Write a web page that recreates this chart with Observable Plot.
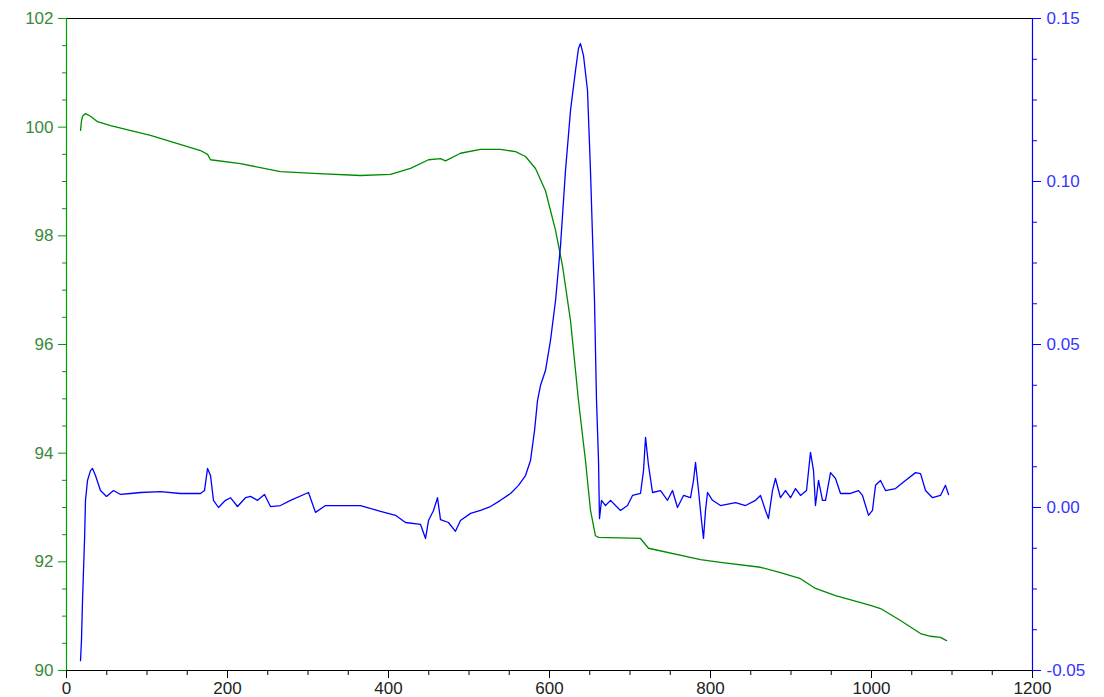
<!DOCTYPE html>
<html>
<head>
<meta charset="utf-8">
<script src="https://cdn.jsdelivr.net/npm/d3@7"></script>
<script src="https://cdn.jsdelivr.net/npm/@observablehq/plot@0.6"></script>
<style>
  html, body { margin: 0; padding: 0; background: #fff; }
  #chart svg { font-family: "Liberation Sans", Arial, sans-serif; display: block; }
</style>
</head>
<body>
<div id="chart"></div>
<script>
// Mass curve (left axis, %)
const massT = [17.4, 18.5, 19.9, 23.6, 29.8, 38.5, 54.7, 104.3, 166.5, 175.2, 178.9, 216.1, 265.8, 306.8, 365.2, 402.5, 427.3, 449.7, 464.6, 470.8, 489.4, 514.3, 539.1, 557.8, 570.2, 582.6, 595.0, 607.5, 616.1, 626.1, 636.0, 644.7, 650.9, 657.1, 660.9, 713.0, 723.0, 787.6, 812.4, 862.1, 887.0, 911.8, 930.4, 955.3, 998.8, 1011.2, 1036.0, 1060.9, 1073.3, 1085.7, 1093.2];
const massV = [99.94, 100.1, 100.2, 100.25, 100.2, 100.1, 100.03, 99.85, 99.57, 99.5, 99.40, 99.33, 99.18, 99.15, 99.11, 99.13, 99.24, 99.40, 99.42, 99.38, 99.52, 99.59, 99.59, 99.55, 99.46, 99.24, 98.83, 98.10, 97.45, 96.44, 94.97, 93.86, 92.95, 92.48, 92.45, 92.43, 92.25, 92.04, 91.99, 91.90, 91.80, 91.69, 91.51, 91.38, 91.20, 91.14, 90.92, 90.68, 90.63, 90.61, 90.55];

// Derivative curve (right axis)
const derivT = [17.4, 18.6, 19.9, 22.4, 23.6, 26.1, 29.8, 32.3, 36.0, 42.2, 49.7, 58.4, 67.1, 79.5, 91.9, 116.8, 141.6, 166.5, 171.4, 175.2, 178.9, 182.6, 188.8, 197.5, 203.7, 212.4, 222.4, 228.6, 237.3, 246.0, 253.4, 265.8, 278.3, 300.6, 309.3, 321.7, 340.4, 365.2, 390.1, 408.7, 421.1, 439.8, 446.0, 449.7, 455.9, 460.9, 464.6, 474.5, 483.2, 489.4, 501.9, 514.3, 526.7, 539.1, 551.6, 561.5, 570.2, 576.4, 581.4, 585.1, 588.8, 595.0, 601.2, 607.5, 613.7, 619.9, 626.1, 632.3, 636.0, 638.5, 642.2, 647.2, 650.9, 655.9, 658.4, 660.9, 662.1, 664.6, 669.6, 675.8, 682.0, 688.2, 696.9, 703.1, 713.0, 716.8, 719.3, 723.0, 728.0, 737.9, 746.6, 752.8, 759.0, 766.5, 775.2, 778.9, 781.4, 785.1, 788.8, 791.3, 793.8, 796.3, 802.5, 812.4, 831.1, 843.5, 855.9, 862.1, 868.3, 872.0, 877.0, 880.7, 886.9, 893.2, 899.4, 905.6, 911.8, 919.3, 924.2, 928.0, 930.4, 934.2, 939.1, 942.9, 949.1, 955.3, 961.5, 973.9, 983.9, 988.8, 996.3, 1001.2, 1005.0, 1011.2, 1017.4, 1029.8, 1042.2, 1054.7, 1060.9, 1067.1, 1075.8, 1085.7, 1091.9, 1095.7];
const derivV = [-0.047, -0.0408, -0.0285, -0.010, 0.0022, 0.0083, 0.0113, 0.012, 0.0098, 0.0052, 0.0034, 0.0052, 0.004, 0.0043, 0.0046, 0.0049, 0.0043, 0.0043, 0.0052, 0.012, 0.0098, 0.0022, 0.0, 0.0022, 0.003, 0.0003, 0.003, 0.0034, 0.0022, 0.004, 0.0003, 0.0006, 0.0022, 0.0046, -0.0015, 0.0006, 0.0006, 0.0006, -0.0012, -0.0024, -0.0046, -0.0052, -0.0095, -0.004, -0.0009, 0.003, -0.0037, -0.0046, -0.0073, -0.004, -0.0018, -0.0009, 0.0003, 0.0022, 0.0043, 0.0068, 0.0098, 0.0144, 0.0236, 0.0328, 0.0374, 0.042, 0.0512, 0.0635, 0.0804, 0.1034, 0.1218, 0.134, 0.1408, 0.1423, 0.1387, 0.128, 0.1034, 0.0635, 0.0328, 0.0144, -0.0034, 0.0022, 0.0006, 0.0022, 0.0006, -0.0009, 0.0006, 0.0037, 0.0043, 0.0113, 0.0215, 0.0129, 0.0046, 0.0052, 0.0022, 0.0052, 0.0, 0.0037, 0.003, 0.0083, 0.0138, 0.0052, -0.004, -0.0095, -0.0009, 0.0046, 0.0022, 0.0006, 0.0015, 0.0006, 0.0022, 0.0037, -0.0009, -0.0034, 0.0052, 0.0089, 0.003, 0.0052, 0.003, 0.0058, 0.0037, 0.0052, 0.0169, 0.0113, 0.0006, 0.0083, 0.0022, 0.0022, 0.0107, 0.0089, 0.0043, 0.0043, 0.0052, 0.0037, -0.0024, -0.0009, 0.0068, 0.0083, 0.0052, 0.0058, 0.0083, 0.0107, 0.0104, 0.0052, 0.003, 0.0037, 0.0068, 0.004];

// Tick values
const xMajor = [0, 200, 400, 600, 800, 1000, 1200];
const leftMajor = [90, 92, 94, 96, 98, 100, 102];
const rightMajor = [-0.05, 0.00, 0.05, 0.10, 0.15];

const mass = massT.map((t, i) => ({t, v: massV[i]}));
const deriv = derivT.map((t, i) => ({t, v: derivV[i]}));

// map right-axis value onto left scale
const R2L = v => 90 + (v + 0.05) * 60;
const L2R = y => (y - 90) / 60 - 0.05;

const xMinor = d3.range(0, 1201, 50).filter(d => !xMajor.includes(d));
const leftMinor = d3.range(90, 102.001, 0.5).filter(d => Math.abs(d - Math.round(d / 2) * 2) > 1e-6);
const rightMinor = d3.range(-0.05, 0.1501, 0.0125).filter(d => Math.abs(d / 0.05 - Math.round(d / 0.05)) > 1e-6);

const green = "#008a00";
const greenText = "#3a8a3a";
const blue = "#0000ff";
const blueText = "#3535ff";

const chart = Plot.plot({
  width: 1104,
  height: 697,
  marginTop: 18,
  marginBottom: 27,
  marginLeft: 66,
  marginRight: 72,
  style: {fontFamily: "'Liberation Sans', Arial, sans-serif", background: "white"},
  x: {domain: [0, 1200], axis: null},
  y: {domain: [90, 102], axis: null},
  marks: [
    // frame lines
    Plot.ruleY([102], {stroke: "black", strokeWidth: 1.2}),
    Plot.ruleY([90], {stroke: "black", strokeWidth: 1.2}),
    Plot.ruleX([0], {stroke: "#00a000", strokeWidth: 1.2}),
    Plot.ruleX([1200], {stroke: blue, strokeWidth: 1.2}),
    // x axis
    Plot.axisX({ticks: xMajor, label: null, tickSize: 8, tickPadding: 3, fontSize: 17, stroke: "black", fill: "#222", color: "#222", tickFormat: d => String(d)}),
    Plot.axisX({ticks: xMinor, label: null, tickSize: 5, stroke: "black", tickFormat: () => ""}),
    // left axis
    Plot.axisY({anchor: "left", ticks: leftMajor, label: null, tickSize: 8, tickPadding: 5, fontSize: 17, stroke: "#00a000", fill: greenText, color: greenText, tickFormat: d => String(d)}),
    Plot.axisY({anchor: "left", ticks: leftMinor, label: null, tickSize: 4, stroke: "#00a000", tickFormat: () => ""}),
    // right axis
    Plot.axisY({anchor: "right", ticks: rightMajor.map(R2L), label: null, tickSize: 8, tickPadding: 6, fontSize: 17, stroke: blue, fill: blueText, color: blueText, tickFormat: d => L2R(d).toFixed(2)}),
    Plot.axisY({anchor: "right", ticks: rightMinor.map(R2L), label: null, tickSize: 4, stroke: blue, tickFormat: () => ""}),
    // data
    Plot.line(mass, {x: "t", y: "v", stroke: green, strokeWidth: 1.3}),
    Plot.line(deriv, {x: "t", y: d => R2L(d.v), stroke: blue, strokeWidth: 1.3})
  ]
});
document.getElementById("chart").appendChild(chart);
</script>
</body>
</html>
